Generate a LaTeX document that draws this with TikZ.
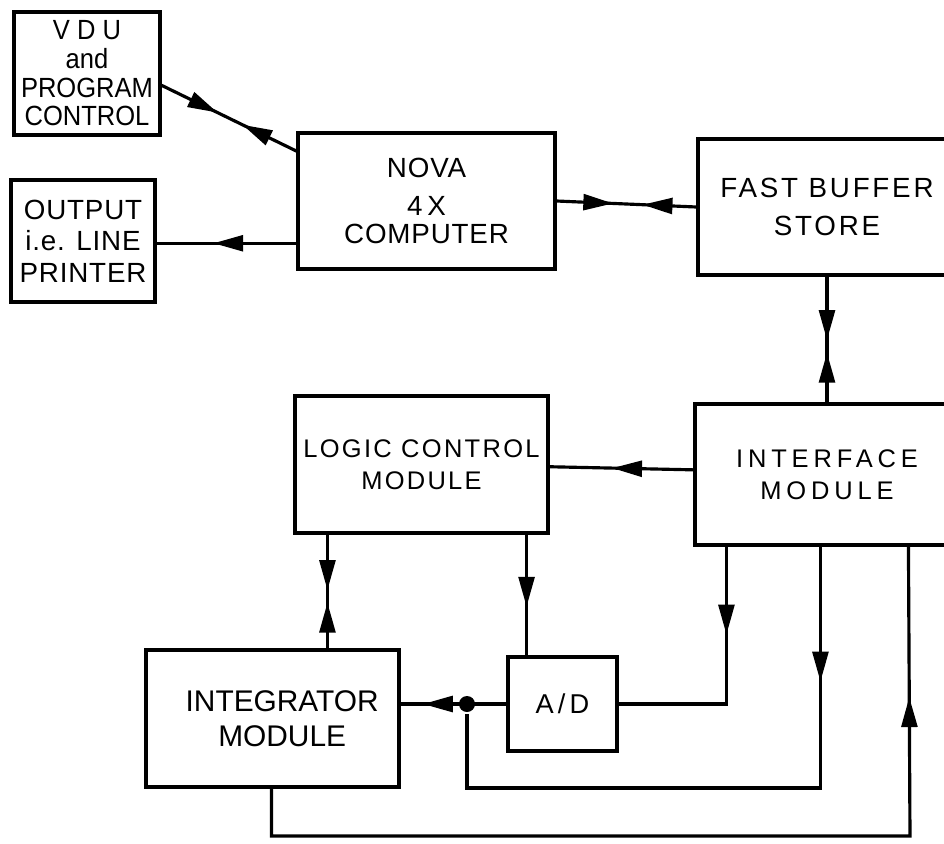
\documentclass[tikz,border=0pt]{standalone}
\usepackage{fontspec}
\setmainfont{Liberation Sans}
\newfontfamily\fA[LetterSpace=3]{Liberation Sans}
\newfontfamily\fB[LetterSpace=10]{Liberation Sans}
\newfontfamily\fC[LetterSpace=9]{Liberation Sans}
\newfontfamily\fD[LetterSpace=19]{Liberation Sans}
\newfontfamily\fE[LetterSpace=15]{Liberation Sans}
\newfontfamily\fN[FakeStretch=0.92]{Liberation Sans}
\usetikzlibrary{arrows.meta,decorations.markings,calc}
\tikzset{
  box/.style={draw, line width=1.8pt, inner sep=0pt, align=center},
  fwd/.style={postaction={decorate,decoration={markings,mark=at position #1 with {\arrow{>}}}}},
  bwd/.style={postaction={decorate,decoration={markings,mark=at position #1 with {\arrowreversed{>}}}}},
  junction/.style={circle, fill, inner sep=0pt, minimum size=0.32cm},
}
\begin{document}
\begin{tikzpicture}[x=0.02cm, y=-0.02cm, line width=1.8pt, line join=miter,
  >={Triangle[length=17pt,width=9pt]}]
\useasboundingbox (0,0) rectangle (944,843);
\clip (0,0) rectangle (944,843);

% boxes
\node[box, minimum width=2.92cm, minimum height=2.46cm,
      font=\fN\fontsize{15.8pt}{16.3pt}\selectfont] (vdu) at (87,73.5)
      {V D U\\and\\PROGRAM\\CONTROL};
\node[box, minimum width=2.88cm, minimum height=2.44cm,
      font=\fA\fontsize{15.8pt}{17.9pt}\selectfont] (out) at (83,241)
      {OUTPUT\\i.e. LINE\\PRINTER};
\node[box, minimum width=5.14cm, minimum height=2.72cm,
      font=\fA\fontsize{15.8pt}{15.8pt}\selectfont] (nova) at (426.5,201)
      {NOVA\\[6pt]4\,X\\COMPUTER};
\node[box, minimum width=5.16cm, minimum height=2.72cm,
      font=\fB\fontsize{15.8pt}{21.5pt}\selectfont] (fast) at (827,207)
      {FAST BUFFER\\STORE};
\node[box, minimum width=5.28cm, minimum height=2.82cm,
      font=\fD\fontsize{14.5pt}{18pt}\selectfont] (intf) at (827,474.5)
      {INTERFACE\\MODULE};
\node[box, minimum width=5.06cm, minimum height=2.74cm,
      font=\fC\fontsize{14.5pt}{18pt}\selectfont] (logic) at (421.5,464.5)
      {LOGIC CONTROL\\MODULE};
\node[box, minimum width=5.06cm, minimum height=2.74cm,
      font=\fontsize{17pt}{19.8pt}\selectfont] (intg) at (272.5,718.5)
      {\kern11pt INTEGRATOR\\\kern11pt MODULE};
\node[box, minimum width=2.18cm, minimum height=1.88cm,
      font=\fE\fontsize{15.5pt}{16pt}\selectfont] (ad) at (562.5,704)
      {A/D};
\node[junction] (dot) at (467,704) {};

% helper coordinates on box edges
\coordinate (la) at ($(logic.south west)+(34,0)$);
\coordinate (lb) at ($(logic.south east)+(-23,0)$);
\coordinate (ia) at ($(intf.south west)+(33,0)$);
\coordinate (ib) at ($(intf.south west)+(127,0)$);
\coordinate (ic) at ($(intf.south west)+(215,0)$);
\coordinate (ga) at ($(intg.south west)+(127,0)$);
\coordinate (lp) at (467,788);
\coordinate (bt) at (910,836);

% connectors
\draw[fwd=0.415, bwd=0.60] (vdu.-9) -- (nova.159);
\draw[fwd=0.594] (nova.198) -- (nova.198 -| out.east);
\draw[fwd=0.405, bwd=0.615] (nova.east) -- (fast.west);
\draw[fwd=0.504, bwd=0.605] (fast.south) -- (intf.north);
\draw[fwd=0.565] (intf.178) -- (logic.-1);
\draw[fwd=0.487, bwd=0.598] (la) -- (la |- intg.north);
\draw[fwd=0.597] (lb) -- (lb |- ad.north);
\draw[fwd=0.789] (ad.west) -- (ad.west -| intg.east);
\draw[fwd=1.76cm] (ia) |- (ad.east);
\draw[fwd=2.7cm] (ib) |- (lp) -- (dot);
\draw[fwd=16.5cm] (ga) |- (bt) -- (ic);
\end{tikzpicture}
\end{document}
